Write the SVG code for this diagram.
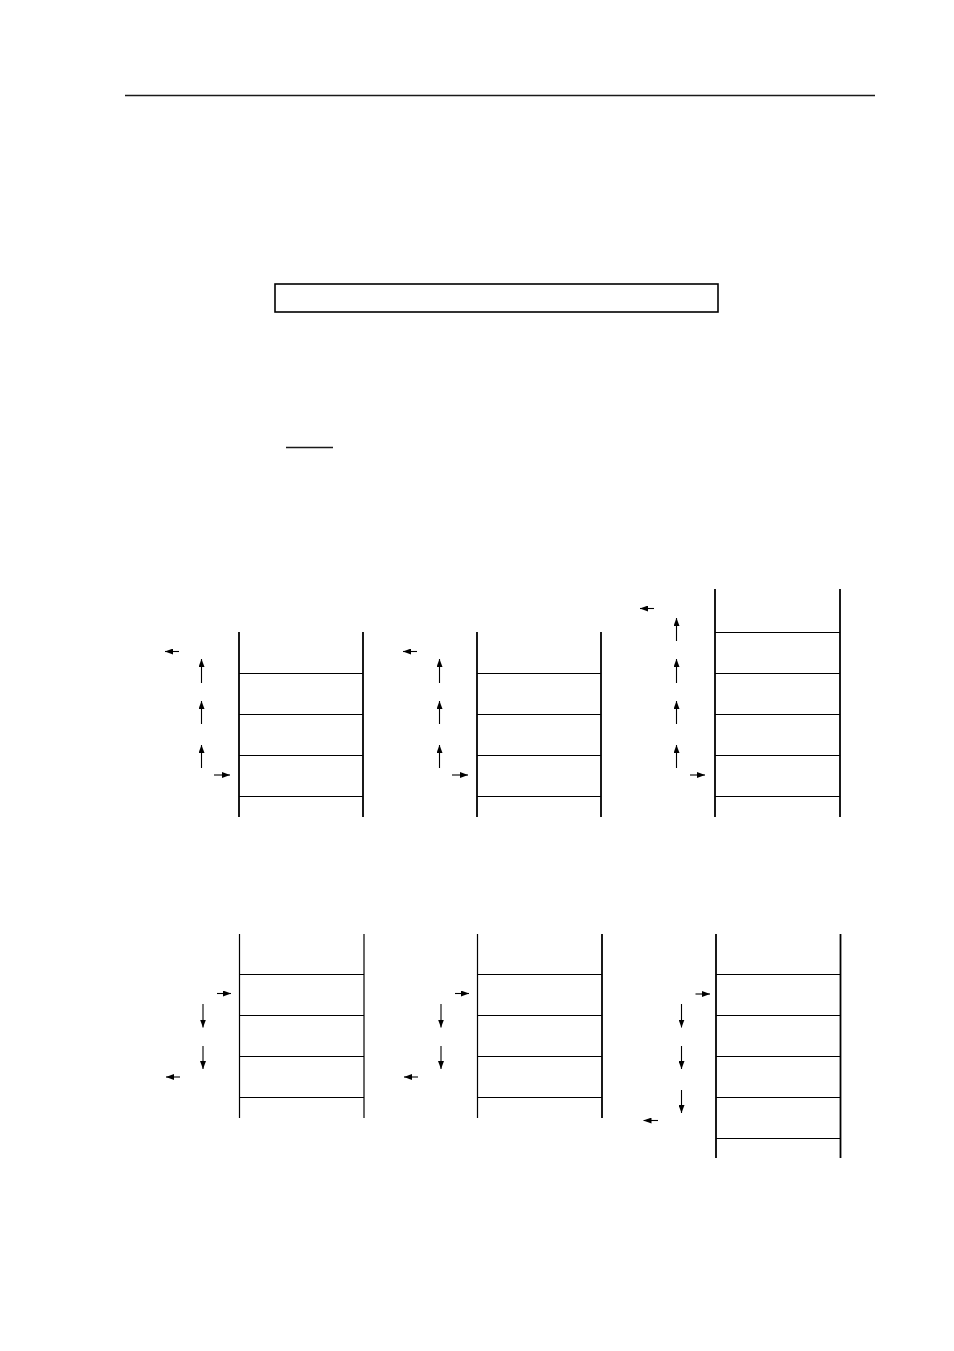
<svg xmlns="http://www.w3.org/2000/svg" width="954" height="1351" viewBox="0 0 954 1351">
<style>
.bg{fill:#fff}
.rule{stroke:#1a1a1a;stroke-width:1.3;fill:none}
.box{stroke:#000;stroke-width:1.6;fill:none}
.wall{stroke:#000;stroke-width:1.8;fill:none}
.wall2{stroke:#000;stroke-width:1.2;fill:none}
.cell{stroke:#000;stroke-width:1.2;fill:none}
.arr{stroke:#000;stroke-width:1.1;fill:none;marker-end:url(#ah)}
</style>
<defs>
<marker id="ah" markerUnits="userSpaceOnUse" markerWidth="8" markerHeight="6" refX="8" refY="3" orient="auto">
<path d="M0,0 L8,3 L0,6 z" fill="#000"/>
</marker>
</defs>
<rect class="bg" x="0" y="0" width="954" height="1351"/>
<g id="header"><line class="rule" x1="125" y1="95.5" x2="875" y2="95.5"/></g>
<g id="framebox"><rect class="box" x="275" y="284" width="443" height="28"/></g>
<g id="underline"><line class="rule" x1="286" y1="447.5" x2="333" y2="447.5"/></g>

<g id="stack-top-1">
<line class="wall" x1="239" y1="632" x2="239" y2="817"/>
<line class="wall" x1="363" y1="632" x2="363" y2="817"/>
<line class="cell" x1="239" y1="673.5" x2="363" y2="673.5"/>
<line class="cell" x1="239" y1="714.5" x2="363" y2="714.5"/>
<line class="cell" x1="239" y1="755.5" x2="363" y2="755.5"/>
<line class="cell" x1="239" y1="796.5" x2="363" y2="796.5"/>
</g>
<g id="stack-top-2" transform="translate(238,0)">
<line class="wall" x1="239" y1="632" x2="239" y2="817"/>
<line class="wall" x1="363" y1="632" x2="363" y2="817"/>
<line class="cell" x1="239" y1="673.5" x2="363" y2="673.5"/>
<line class="cell" x1="239" y1="714.5" x2="363" y2="714.5"/>
<line class="cell" x1="239" y1="755.5" x2="363" y2="755.5"/>
<line class="cell" x1="239" y1="796.5" x2="363" y2="796.5"/>
</g>
<g id="stack-top-3">
<line class="wall" x1="715" y1="589" x2="715" y2="817"/>
<line class="wall" x1="840" y1="589" x2="840" y2="817"/>
<line class="cell" x1="715" y1="632.5" x2="840" y2="632.5"/>
<line class="cell" x1="715" y1="673.5" x2="840" y2="673.5"/>
<line class="cell" x1="715" y1="714.5" x2="840" y2="714.5"/>
<line class="cell" x1="715" y1="755.5" x2="840" y2="755.5"/>
<line class="cell" x1="715" y1="796.5" x2="840" y2="796.5"/>
</g>

<g id="stack-bottom-1">
<line class="wall2" x1="239.5" y1="934" x2="239.5" y2="1118"/>
<line class="wall2" x1="364" y1="934" x2="364" y2="1118"/>
<line class="cell" x1="239.5" y1="974.5" x2="364" y2="974.5"/>
<line class="cell" x1="239.5" y1="1015.5" x2="364" y2="1015.5"/>
<line class="cell" x1="239.5" y1="1056.5" x2="364" y2="1056.5"/>
<line class="cell" x1="239.5" y1="1097.5" x2="364" y2="1097.5"/>
</g>
<g id="stack-bottom-2" transform="translate(238,0)">
<line class="wall2" x1="239.5" y1="934" x2="239.5" y2="1118"/>
<line class="wall" x1="364" y1="934" x2="364" y2="1118"/>
<line class="cell" x1="239.5" y1="974.5" x2="364" y2="974.5"/>
<line class="cell" x1="239.5" y1="1015.5" x2="364" y2="1015.5"/>
<line class="cell" x1="239.5" y1="1056.5" x2="364" y2="1056.5"/>
<line class="cell" x1="239.5" y1="1097.5" x2="364" y2="1097.5"/>
</g>
<g id="stack-bottom-3">
<line class="wall" x1="716" y1="934" x2="716" y2="1158"/>
<line class="wall" x1="840.5" y1="934" x2="840.5" y2="1158"/>
<line class="cell" x1="716" y1="974.5" x2="840.5" y2="974.5"/>
<line class="cell" x1="716" y1="1015.5" x2="840.5" y2="1015.5"/>
<line class="cell" x1="716" y1="1056.5" x2="840.5" y2="1056.5"/>
<line class="cell" x1="716" y1="1097.5" x2="840.5" y2="1097.5"/>
<line class="cell" x1="716" y1="1138.5" x2="840.5" y2="1138.5"/>
</g>

<g id="connectors">
<g id="arrows-top-1">
<line class="arr" x1="179" y1="651.5" x2="165" y2="651.5"/>
<line class="arr" x1="201.5" y1="683" x2="201.5" y2="659"/>
<line class="arr" x1="201.5" y1="724" x2="201.5" y2="701"/>
<line class="arr" x1="201.5" y1="768" x2="201.5" y2="745"/>
<line class="arr" x1="214" y1="775" x2="230" y2="775"/>
</g>
<g id="arrows-top-2" transform="translate(238,0)">
<line class="arr" x1="179" y1="651.5" x2="165" y2="651.5"/>
<line class="arr" x1="201.5" y1="683" x2="201.5" y2="659"/>
<line class="arr" x1="201.5" y1="724" x2="201.5" y2="701"/>
<line class="arr" x1="201.5" y1="768" x2="201.5" y2="745"/>
<line class="arr" x1="214" y1="775" x2="230" y2="775"/>
</g>
<g id="arrows-top-3">
<line class="arr" x1="654" y1="608.5" x2="640" y2="608.5"/>
<line class="arr" x1="676.5" y1="641" x2="676.5" y2="618"/>
<line class="arr" x1="676.5" y1="683" x2="676.5" y2="659"/>
<line class="arr" x1="676.5" y1="724" x2="676.5" y2="701"/>
<line class="arr" x1="676.5" y1="768" x2="676.5" y2="745"/>
<line class="arr" x1="690" y1="775" x2="705" y2="775"/>
</g>
<g id="arrows-bottom-1">
<line class="arr" x1="217" y1="993.5" x2="231" y2="993.5"/>
<line class="arr" x1="203" y1="1004" x2="203" y2="1027.5"/>
<line class="arr" x1="203" y1="1046" x2="203" y2="1069"/>
<line class="arr" x1="180" y1="1077" x2="166" y2="1077"/>
</g>
<g id="arrows-bottom-2" transform="translate(238,0)">
<line class="arr" x1="217" y1="993.5" x2="231" y2="993.5"/>
<line class="arr" x1="203" y1="1004" x2="203" y2="1027.5"/>
<line class="arr" x1="203" y1="1046" x2="203" y2="1069"/>
<line class="arr" x1="180" y1="1077" x2="166" y2="1077"/>
</g>
<g id="arrows-bottom-3">
<line class="arr" x1="695.5" y1="994" x2="710" y2="994"/>
<line class="arr" x1="681.5" y1="1004" x2="681.5" y2="1027.5"/>
<line class="arr" x1="681.5" y1="1046" x2="681.5" y2="1069"/>
<line class="arr" x1="681.5" y1="1090" x2="681.5" y2="1113"/>
<line class="arr" x1="658" y1="1120.5" x2="643.5" y2="1120.5"/>
</g>
</g>
</svg>
